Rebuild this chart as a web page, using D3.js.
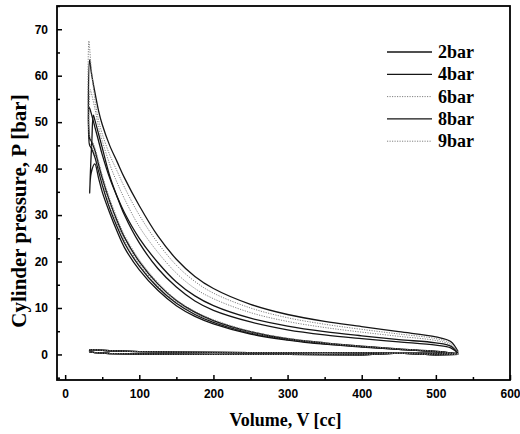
<!DOCTYPE html>
<html>
<head>
<meta charset="utf-8">
<script src="https://cdn.jsdelivr.net/npm/d3@7"></script>
<style>
  body { margin: 0; background: #fff; }
  svg { display: block; }
</style>
</head>
<body>
<div id="chart"></div>
<script>
// the data (volume in cc, pressure in bar)
let seriesNames = ["2bar", "4bar", "6bar", "8bar", "9bar"];

// compression stroke, from bottom dead centre towards TDC
let volDown = [530, 520, 500, 450, 400, 350, 300, 250, 200, 175, 150, 125, 100, 80, 70, 60, 50, 45, 40, 35];
let comp2 = [0, 0.3, 0.6, 1.1, 1.6, 2.2, 3.1, 4.4, 6.6, 8.2, 10.5, 13.8, 18.2, 23, 26.5, 30.5, 35, 38, 41, 39];
let comp4 = [0, 0.3, 0.6, 1.1, 1.7, 2.3, 3.2, 4.6, 6.9, 8.6, 11, 14.4, 19, 24, 27.5, 31.5, 36.5, 39.5, 42.5, 44.5];
let comp6 = [0, 0.3, 0.6, 1.2, 1.7, 2.4, 3.3, 4.7, 7.1, 8.9, 11.3, 14.8, 19.5, 24.6, 28.2, 32.3, 37.4, 40.3, 43.2, 45];
let comp8 = [0, 0.3, 0.7, 1.2, 1.8, 2.5, 3.4, 4.9, 7.3, 9.1, 11.6, 15.2, 20, 25.2, 28.8, 33, 38, 41, 44, 46];
let comp9 = [0, 0.3, 0.7, 1.2, 1.8, 2.5, 3.5, 5, 7.5, 9.3, 11.8, 15.5, 20.4, 25.7, 29.4, 33.6, 38.6, 41.6, 44.5, 46.5];

// around TDC: end of compression, combustion peak
let tdcV2 = [33, 36, 38], tdcP2 = [34.7, 46, 51.5];
let tdcV4 = [33, 32.5, 35], tdcP4 = [45, 53.2, 52];
let tdcV6 = [33, 34, 35], tdcP6 = [45.5, 57, 56.5];
let tdcV8 = [33, 33, 35], tdcP8 = [46.5, 63.4, 61];
let tdcV9 = [33, 32, 35], tdcP9 = [47, 67.5, 62];

// expansion stroke
let volUp = [40, 45, 50, 60, 70, 80, 100, 125, 150, 175, 200, 250, 300, 350, 400, 450, 500, 520, 530];
let exp2 = [50.5, 47.5, 44.5, 38.5, 34, 30, 24, 18.5, 14.5, 11.5, 9.5, 7, 5.3, 4.2, 3.4, 2.7, 2.0, 1.4, 0.2];
let exp4 = [49, 46, 43, 38, 34, 30.5, 25, 19.8, 15.6, 12.6, 10.5, 7.8, 6.1, 4.9, 4.0, 3.2, 2.5, 1.8, 0.3];
let exp6 = [53, 49, 46, 41, 37, 33.5, 27.5, 22, 17.5, 14.2, 12, 9, 7.1, 5.8, 4.8, 3.9, 3.0, 2.1, 0.4];
let exp8 = [56.5, 52.5, 49.5, 45, 41.5, 38, 32, 25.5, 20.5, 16.8, 14.2, 10.8, 8.6, 7.1, 6.0, 4.9, 3.8, 2.8, 0.6];
let exp9 = [55, 50.5, 47.5, 43, 39.5, 36, 30, 24, 19.2, 15.7, 13.2, 10, 7.9, 6.5, 5.4, 4.4, 3.4, 2.4, 0.5];

// exhaust and intake strokes (pumping loop)
let pumpV = [530, 450, 350, 250, 150, 100, 60, 40, 33, 33, 40, 60, 100, 200, 300, 400, 450, 500, 530];
let pumpP = [0.2, 0.3, 0.4, 0.4, 0.5, 0.6, 0.8, 1.0, 1.0, 0.6, 0.4, 0.2, 0.1, 0, 0, -0.1, 0.3, -0.1, 0];

let xTicks = [0, 100, 200, 300, 400, 500, 600];
let yTicks = [0, 10, 20, 30, 40, 50, 60, 70];

let compAll = [comp2, comp4, comp6, comp8, comp9];
let tdcVAll = [tdcV2, tdcV4, tdcV6, tdcV8, tdcV9];
let tdcPAll = [tdcP2, tdcP4, tdcP6, tdcP8, tdcP9];
let expAll = [exp2, exp4, exp6, exp8, exp9];
let dotted = [false, false, true, false, true];

let width = 520, height = 434;
let plotLeft = 57, plotRight = 510, plotTop = 6, plotBottom = 380;

let svg = d3.select("#chart").append("svg")
  .attr("width", width)
  .attr("height", height);

let x = d3.scaleLinear().domain([-11, 600]).range([plotLeft, plotRight]);
let y = d3.scaleLinear().domain([-5.5, 75]).range([plotBottom, plotTop]);

let line = d3.line()
  .x(d => x(d[0]))
  .y(d => y(d[1]))
  .curve(d3.curveCatmullRom.alpha(0.5));

function styleLine(sel, isDotted) {
  sel.attr("fill", "none")
    .attr("stroke", isDotted ? "#808080" : "#151515")
    .attr("stroke-width", isDotted ? 1 : 1.3)
    .attr("stroke-dasharray", isDotted ? "1.2,1.3" : null);
}

let plot = svg.append("g");

seriesNames.forEach((name, i) => {
  let pts = [];
  volDown.forEach((v, j) => pts.push([v, compAll[i][j]]));
  tdcVAll[i].forEach((v, j) => pts.push([v, tdcPAll[i][j]]));
  volUp.forEach((v, j) => pts.push([v, expAll[i][j]]));
  plot.append("path").datum(pts).attr("d", line).call(styleLine, dotted[i]);

  let pump = pumpV.map((v, j) => [v, pumpP[j]]);
  plot.append("path").datum(pump).attr("d", d3.line().x(d => x(d[0])).y(d => y(d[1])))
    .call(styleLine, dotted[i]);
});

// axes: ticks pointing inwards
svg.append("g").attr("transform", "translate(0," + plotBottom + ")")
  .call(d3.axisBottom(x).tickValues(xTicks).tickSize(-5).tickPadding(9).tickFormat(d3.format("d")));
svg.append("g").attr("transform", "translate(0," + plotBottom + ")")
  .call(d3.axisBottom(x).tickValues(d3.range(50, 600, 100)).tickSize(-3).tickFormat(""));
svg.append("g").attr("transform", "translate(" + plotLeft + ",0)")
  .call(d3.axisLeft(y).tickValues(yTicks).tickSize(-5).tickPadding(9).tickFormat(d3.format("d")));
svg.append("g").attr("transform", "translate(" + plotLeft + ",0)")
  .call(d3.axisLeft(y).tickValues(d3.range(-5, 76, 10)).tickSize(-3).tickFormat(""));

svg.selectAll(".domain").remove();
svg.selectAll(".tick line").attr("stroke", "#000").attr("stroke-width", 1.5);
svg.selectAll(".tick text")
  .attr("fill", "#000")
  .style("font-family", "'Liberation Sans', Arial, sans-serif")
  .style("font-weight", "bold")
  .style("font-size", "12px");

svg.append("rect")
  .attr("x", plotLeft).attr("y", plotTop)
  .attr("width", plotRight - plotLeft).attr("height", plotBottom - plotTop)
  .attr("fill", "none").attr("stroke", "#000").attr("stroke-width", 1.8);

// axis titles
svg.append("text")
  .attr("x", (plotLeft + plotRight) / 2 + 2).attr("y", 426)
  .attr("text-anchor", "middle")
  .style("font-family", "'Liberation Serif', 'Times New Roman', serif")
  .style("font-weight", "bold").style("font-size", "18px")
  .text("Volume, V [cc]");

svg.append("text")
  .attr("transform", "translate(26," + 211 + ") rotate(-90)")
  .attr("text-anchor", "middle")
  .style("font-family", "'Liberation Serif', 'Times New Roman', serif")
  .style("font-weight", "bold").style("font-size", "21px")
  .text("Cylinder pressure, P [bar]");

// legend
let legend = svg.append("g");
seriesNames.forEach((name, i) => {
  let ly = 52 + i * 22.3;
  legend.append("line")
    .attr("x1", 387).attr("x2", 432).attr("y1", ly).attr("y2", ly)
    .call(styleLine, dotted[i]);
  legend.append("text")
    .attr("x", 438).attr("y", ly + 6)
    .style("font-family", "'Liberation Serif', 'Times New Roman', serif")
    .style("font-weight", "bold").style("font-size", "18px")
    .text(name);
});
</script>
</body>
</html>
